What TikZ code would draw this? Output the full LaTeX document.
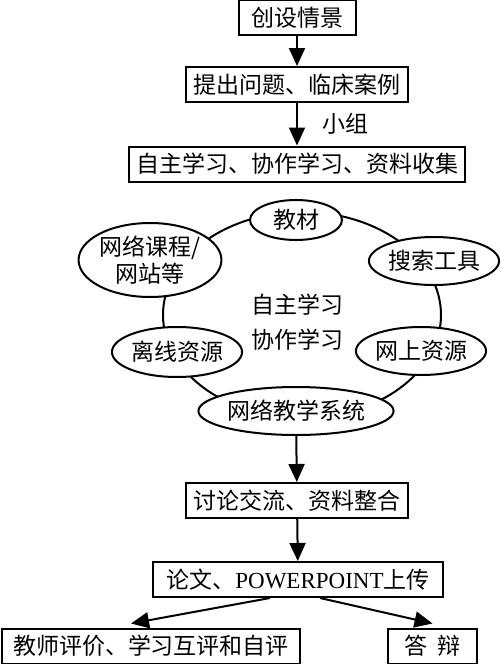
\documentclass[tikz,border=0pt]{standalone}
\usepackage{fontspec}
\setmainfont{Noto Sans CJK SC}
\newfontfamily\lat{Liberation Serif}
\usetikzlibrary{arrows.meta,shapes.geometric,positioning}

\begin{document}
\begin{tikzpicture}[x=0.5pt,y=-0.5pt,line width=1pt,
  >={Triangle[length=9pt,width=8pt]},
  every node/.style={font=\fontsize{11.5}{17.5}\selectfont},
  box/.style={draw,inner sep=0pt,minimum height=17.5pt},
  blob/.style={draw,ellipse,fill=white,inner sep=0pt}]
\useasboundingbox (0,0) rectangle (500,664);

\node[box,minimum width=58.5pt] (qj) at (297,17.5) {创设情景};
\node[box,minimum width=111pt] (wt) at (297,84.5) {提出问题、临床案例};
\node[box,minimum width=168pt] (zz) at (297,164) {自主学习、协作学习、资料收集};

\node[draw,ellipse,inner sep=0pt,minimum width=139pt,minimum height=103pt] (ring) at (302,315) {};
\node[align=center] (core) at (297,322) {自主学习\\协作学习};
\node[blob,minimum width=46pt,minimum height=20pt] (jc) at (296,220) {教材};
\node[blob,minimum width=65pt,minimum height=37pt,align=center,
  font=\fontsize{11.5}{13.5}\selectfont] (wk) at (150,260) {网络课程/\\网站等};
\node[blob,minimum width=64pt,minimum height=24pt] (ss) at (434,261) {搜索工具};
\node[blob,minimum width=64.5pt,minimum height=25pt] (lx) at (177,352) {离线资源};
\node[blob,minimum width=64pt,minimum height=24pt] (ws) at (421,351) {网上资源};
\node[blob,minimum width=94pt,minimum height=24pt] (xt) at (296,411) {网络教学系统};

\node[box,minimum width=111pt] (tl) at (297,500.5) {讨论交流、资料整合};
\node[box,minimum width=145pt] (lw) at (298,579.5) {论文、{\lat POWERPOINT}上传};
\node[box,minimum width=149pt] (pj) at (151,646) {教师评价、学习互评和自评};
\node[box,minimum width=44.5pt] (db) at (432.5,646) {答\hspace{0.45em}辩};

\draw[->] (qj) -- (wt);
\draw[->] (wt) -- node[right=9pt] {小组} (zz);
\draw[->] (xt) -- (tl);
\draw[->] (tl) -- (lw);
\draw[->] ([xshift=-14pt]lw.south) -- ([xshift=-10pt,yshift=2pt]pj.north);
\draw[->] ([xshift=11pt]lw.south) -- ([yshift=2pt]db.north);
\end{tikzpicture}
\end{document}
